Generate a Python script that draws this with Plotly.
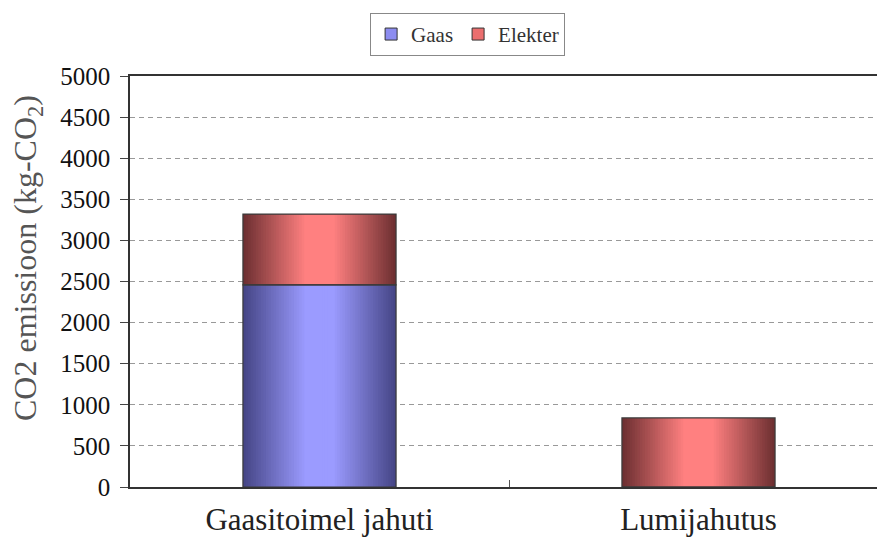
import plotly.graph_objects as go

# Data
categories = ['Gaasitoimel jahuti', 'Lumijahutus']
gaas = [2460, 0]
elekter = [860, 840]

# gradient colours (edge -> centre) for each series
gaas_dark, gaas_light = (70, 70, 135), (155, 155, 255)
elek_dark, elek_light = (110, 48, 50), (255, 128, 128)

bar_width = 0.404
n_steps = 30


def mix(c1, c2, t):
    return 'rgb({},{},{})'.format(*[int(round(a + (b - a) * t)) for a, b in zip(c1, c2)])


fig = go.Figure()

# draw each series as nested overlaid bars to fake the horizontal shading
for name, vals, base, dark, light in [
    ('Gaas', gaas, None, gaas_dark, gaas_light),
    ('Elekter', elekter, gaas, elek_dark, elek_light),
]:
    for i in range(n_steps):
        t = i / n_steps
        f = min(1.0, t * 1.25)
        fig.add_trace(go.Bar(
            x=categories, y=vals, base=base,
            width=bar_width * (1 - t),
            marker=dict(color=mix(dark, light, f), line=dict(width=0)),
            showlegend=False, hoverinfo='skip'))

# outline on top of the shading
for vals, base in [(gaas, None), (elekter, gaas)]:
    fig.add_trace(go.Bar(
        x=categories, y=vals, base=base, width=bar_width,
        marker=dict(color='rgba(0,0,0,0)', line=dict(color='#3a3a3a', width=1.2)),
        showlegend=False, hoverinfo='skip'))

# legend entries
fig.add_trace(go.Bar(x=categories, y=[None, None], name='Gaas',
                     marker=dict(color='rgb(140,140,240)', line=dict(color='#333', width=1))))
fig.add_trace(go.Bar(x=categories, y=[None, None], name='Elekter',
                     marker=dict(color='rgb(235,110,110)', line=dict(color='#333', width=1))))

fig.update_layout(
    width=877, height=538,
    barmode='overlay',
    plot_bgcolor='white', paper_bgcolor='white',
    margin=dict(l=130, r=0, t=76, b=51),
    font=dict(family='Liberation Serif', color='#111'),
    legend=dict(orientation='h', xref='container', yref='container',
                x=0.422, y=0.976, xanchor='left', yanchor='top',
                bordercolor='#888', borderwidth=1, bgcolor='white',
                font=dict(size=21, color='#333'), itemwidth=30,
                traceorder='normal'),
    xaxis=dict(range=[-0.5, -0.5 + 747 / 379], type='category', automargin=False,
               showline=True, linecolor='#333', linewidth=1.5, mirror=True,
               ticks='inside', ticklen=7, tickcolor='#555', tickson='boundaries',
               showgrid=False, tickfont=dict(size=31, color='#222'),
               ticklabelstandoff=4),
    yaxis=dict(range=[0, 5000], dtick=500, automargin=False,
               showline=True, linecolor='#333', linewidth=1.5,
               ticks='outside', ticklen=8, tickcolor='#444',
               showgrid=True, gridcolor='#999', griddash='5px,4px', gridwidth=1.2,
               zeroline=False,
               tickfont=dict(size=25, color='#111'), ticklabelstandoff=5),
    annotations=[dict(text='CO2 emissioon (kg-CO<sub>2</sub>)', textangle=-90,
                      xref='paper', yref='paper', x=(27 - 130) / 747, y=(487 - 258) / 411,
                      xanchor='center', yanchor='middle', showarrow=False,
                      font=dict(size=32, color='#555'))],
)

# the page's default body margin would shift the chart by 8px
fig.write_html('out.html', config={'displayModeBar': False},
               post_script="document.body.style.margin='0';")
